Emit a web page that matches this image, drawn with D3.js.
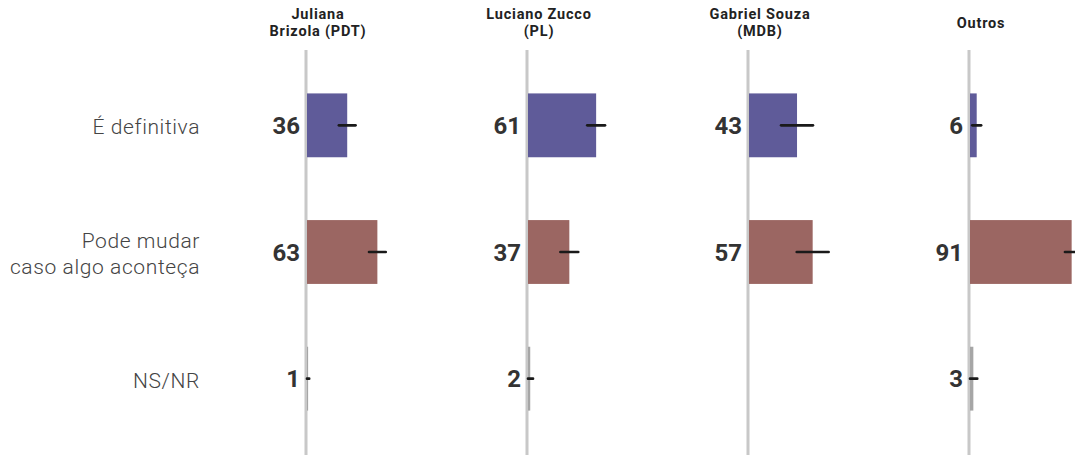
<!DOCTYPE html>
<html><head><meta charset="utf-8">
<script src="https://cdn.jsdelivr.net/npm/d3@7"></script>
<style>
html,body{margin:0;padding:0;background:#fff;}
svg{display:block;font-family:Roboto,"Noto Sans",sans-serif;}
</style></head>
<body><svg id="c" width="1075" height="455"></svg>
<script>
const candidates = ["Juliana Brizola (PDT)", "Luciano Zucco (PL)", "Gabriel Souza (MDB)", "Outros"];
const candidateTitles = [["Juliana", "Brizola (PDT)"], ["Luciano Zucco", "(PL)"], ["Gabriel Souza", "(MDB)"], ["Outros"]];
const categories = ["É definitiva", "Pode mudar caso algo aconteça", "NS/NR"];
const categoryLines = [["É definitiva"], ["Pode mudar", "caso algo aconteça"], ["NS/NR"]];
const definitiva = [36, 61, 43, 6];
const podeMudar = [63, 37, 57, 91];
const nsnr = [1, 2, null, 3];
const errDefinitiva = [7.5, 8, 14.3, 4];
const errPodeMudar = [7.5, 8, 14.3, 6];
const errNsnr = [1, 2.5, null, 3.5];
const colors = ["#5f5b99", "#9b6662", "#a6a6a6"];

const values = [definitiva, podeMudar, nsnr];
const errors = [errDefinitiva, errPodeMudar, errNsnr];

const svg = d3.select("#c");
const fx = d3.scalePoint().domain(candidates).range([306, 969]);
const y = d3.scaleBand().domain(categories).range([62, 442]).paddingInner(0.496).paddingOuter(0.248);
const x = d3.scaleLinear().domain([0, 100]).range([0, 111.7]);

// category labels
categories.forEach((c, i) => {
  const lines = categoryLines[i];
  const cy = y(c) + y.bandwidth() / 2 + 1.5;
  lines.forEach((l, j) => {
    svg.append("text").attr("x", 200).attr("text-anchor", "end")
      .attr("font-size", 21).attr("font-weight", 300).attr("fill", "#444")
      .attr("letter-spacing", 0.6)
      .attr("y", cy + (j - (lines.length - 1) / 2) * 26)
      .attr("dy", "0.35em").text(l);
  });
});

candidates.forEach((cand, k) => {
  const ax = fx(cand);
  const g = svg.append("g");
  // title
  const tl = candidateTitles[k];
  tl.forEach((l, j) => {
    g.append("text").attr("text-anchor", "middle").attr("font-size", 14.5)
      .attr("font-weight", 700).attr("fill", "#222").attr("letter-spacing", 0.8)
      .attr("x", ax + 12)
      .attr("y", (tl.length === 1 ? 27.5 : 19 + j * 17)).text(l);
  });
  // axis line
  g.append("line").attr("x1", ax).attr("x2", ax).attr("y1", 50).attr("y2", 455)
    .attr("stroke", "#c8c8c8").attr("stroke-width", 3);
  categories.forEach((c, i) => {
    const v = values[i][k];
    if (v == null) return;
    const e = errors[i][k];
    const by = y(c);
    const bx = ax + 1;
    g.append("rect").attr("x", bx).attr("y", by).attr("width", x(v))
      .attr("height", y.bandwidth()).attr("fill", colors[i]);
    const cy = by + y.bandwidth() / 2;
    g.append("line").attr("x1", bx + x(Math.max(0, v - e))).attr("x2", bx + x(v + e))
      .attr("y1", cy).attr("y2", cy).attr("stroke", "#1a1a1a").attr("stroke-width", 2.6)
      .attr("stroke-linecap", "round");
    g.append("text").attr("x", ax - 6).attr("y", cy).attr("dy", "0.36em")
      .attr("text-anchor", "end").attr("font-size", 24).attr("font-weight", 700)
      .attr("fill", "#333").text(v);
  });
});
</script></body></html>
